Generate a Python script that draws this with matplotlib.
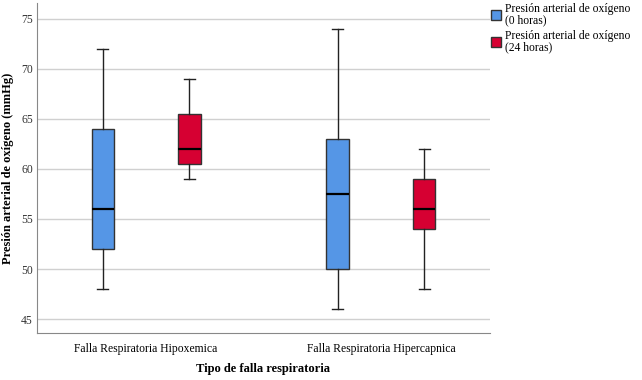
import matplotlib
matplotlib.use("Agg")
import matplotlib.pyplot as plt
from matplotlib.patches import Patch

categories = ["Falla Respiratoria Hipoxemica", "Falla Respiratoria Hipercapnica"]
series = ["Presión arterial de oxígeno\n(0 horas)", "Presión arterial de oxígeno\n(24 horas)"]
# stats per series per category: (whislo, q1, med, q3, whishi)
stats_0h = [(48, 52, 56, 64, 72), (46, 50, 57.5, 63, 74)]
stats_24h = [(59, 60.5, 62, 65.5, 69), (48, 54, 56, 59, 62)]
colors = ["#5596E6", "#D60032"]
yticks = [45, 50, 55, 60, 65, 70, 75]

plt.rcParams['font.family'] = ['Liberation Serif', 'DejaVu Serif']

fig = plt.figure(figsize=(6.42, 3.80), dpi=100)
ax = fig.add_axes([37/642, 1-333/380, (490-37)/642, (333-3)/380])

offset = 0.185
width = 0.094
for si, (st, col) in enumerate(zip([stats_0h, stats_24h], colors)):
    bxp = []
    for ci, s in enumerate(st):
        bxp.append(dict(whislo=s[0], q1=s[1], med=s[2], q3=s[3], whishi=s[4], fliers=[]))
    pos = [ci + (-offset if si == 0 else offset) for ci in range(len(st))]
    ax.bxp(bxp, positions=pos, widths=width, patch_artist=True, showfliers=False,
           boxprops=dict(facecolor=col, edgecolor="#333333", linewidth=1.0),
           medianprops=dict(color="black", linewidth=1.6),
           whiskerprops=dict(color="#222222", linewidth=1.0),
           capprops=dict(color="#222222", linewidth=1.0),
           capwidths=width*0.5)

ax.set_xlim(-0.464, 1.464)
ax.set_ylim(43.6, 76.6)
ax.set_xticks(range(len(categories)))
ax.set_xticklabels(categories, fontsize=8.4)
ax.set_yticks(yticks)
ax.set_yticklabels([str(v) for v in yticks], fontsize=8.4, color="#333333")
ax.tick_params(axis="x", length=0, pad=7)
ax.tick_params(axis="y", length=0, pad=3)
ax.yaxis.grid(True, color="#D0D0D0", linewidth=1.0)
ax.set_axisbelow(True)
for sp in ["top", "right"]:
    ax.spines[sp].set_visible(False)
for sp in ["left", "bottom"]:
    ax.spines[sp].set_color("#888888")
ax.set_xlabel("Tipo de falla respiratoria", fontsize=9, fontweight="bold", labelpad=6)
ax.set_ylabel("Presión arterial de oxígeno (mmHg)", fontsize=9, fontweight="bold", labelpad=5)

handles = [Patch(facecolor=c, edgecolor="#333333", label=l) for c, l in zip(colors, series)]
leg = fig.legend(handles=handles, loc="upper left", bbox_to_anchor=(486/642, 1.005), frameon=False,
                 fontsize=8.4, handlelength=0.9, handleheight=0.9, handletextpad=0.3,
                 labelspacing=0.25, borderaxespad=0.0)
for t in leg.get_texts():
    t.set_linespacing(1.0)

fig.savefig("out.png", dpi=100)
